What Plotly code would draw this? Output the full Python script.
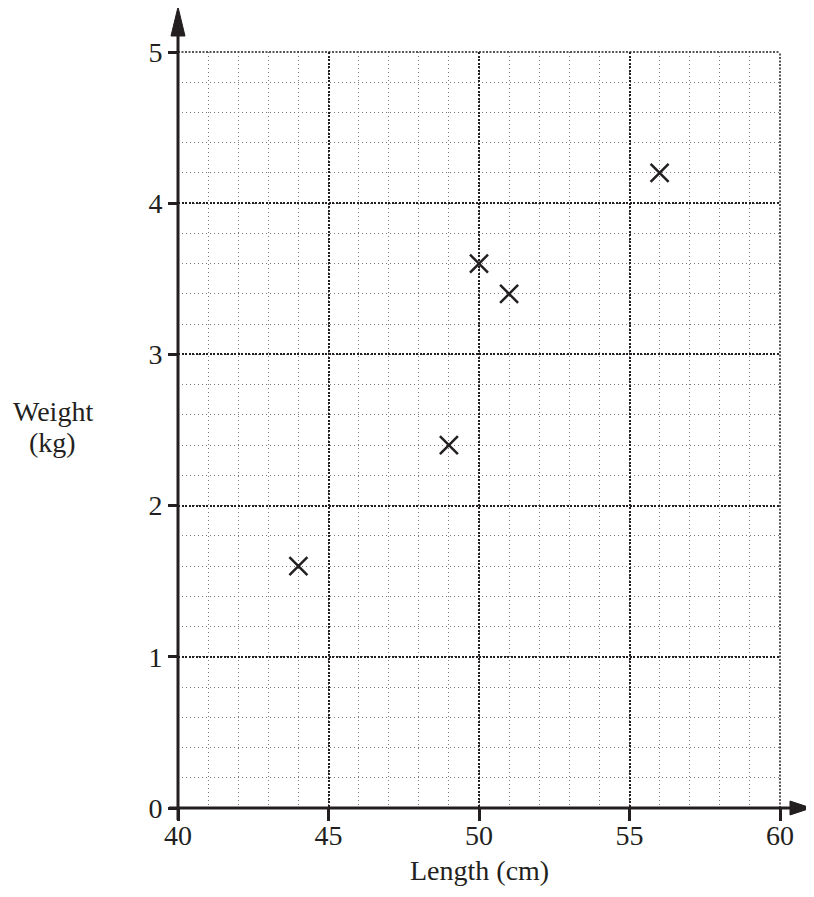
import plotly.graph_objects as go

# Data
lengths_cm = [44, 49, 50, 51, 56]
weights_kg = [1.6, 2.4, 3.6, 3.4, 4.2]
x_ticks = [40, 45, 50, 55, 60]
y_ticks = [0, 1, 2, 3, 4, 5]
x_title = "Length (cm)"
y_title_lines = ["Weight", "(kg)"]

INK = "#231f20"
FONT = "Liberation Serif"
FS = 28
MAJOR_DASH = "2px,1.5px"

fig = go.Figure()
fig.add_trace(go.Scatter(
    x=lengths_cm, y=weights_kg, mode="markers",
    marker=dict(symbol="x-thin-open", size=18, color=INK,
                line=dict(color=INK, width=2.5)),
    cliponaxis=False, showlegend=False, hoverinfo="x+y"))

fig.update_layout(
    width=798, height=881,
    margin=dict(l=170, r=23, t=44, b=81),
    plot_bgcolor="white", paper_bgcolor="white",
    font=dict(family=FONT, size=FS, color=INK),
    xaxis=dict(range=[40, 60], tickvals=x_ticks, ticks="outside", ticklen=12,
               tickwidth=3, tickcolor=INK, showline=False, zeroline=False,
               ticklabelstandoff=-10,
               showgrid=True, gridcolor=INK, gridwidth=1.5, griddash=MAJOR_DASH,
               minor=dict(dtick=1, showgrid=True, gridcolor="#7a7a7a",
                          gridwidth=1, griddash="1px,3px"),
               tickfont=dict(family=FONT, size=FS, color=INK), fixedrange=True),
    yaxis=dict(range=[0, 5], tickvals=y_ticks, ticks="outside", ticklen=9,
               tickwidth=3, tickcolor=INK, showline=False, zeroline=False,
               showgrid=True, gridcolor=INK, gridwidth=1.5, griddash=MAJOR_DASH,
               minor=dict(dtick=0.2, showgrid=True, gridcolor="#7a7a7a",
                          gridwidth=1, griddash="1px,3px"),
               tickfont=dict(family=FONT, size=FS, color=INK), fixedrange=True),
)

# Edge grid lines (top and right borders of the grid), dotted like major gridlines
fig.add_shape(type="line", xref="paper", yref="paper", x0=0, x1=1, y0=1, y1=1,
              line=dict(color=INK, width=1.5, dash=MAJOR_DASH), layer="above")
fig.add_shape(type="line", xref="paper", yref="paper", x0=1, x1=1, y0=0, y1=1,
              line=dict(color=INK, width=1.5, dash=MAJOR_DASH), layer="above")

# Axis lines (paper refs so they are not clipped; x range 40..60 = paper 0..1, y 0..5 = paper 0..1)
fig.add_shape(type="line", xref="paper", yref="paper", xsizemode="pixel", xanchor=0,
              x0=-9, x1=617, y0=0, y1=0, line=dict(color=INK, width=3), layer="above")
fig.add_shape(type="line", xref="paper", yref="paper", ysizemode="pixel", yanchor=0,
              y0=-12, y1=775, x0=0, x1=0, line=dict(color=INK, width=3), layer="above")

# Arrowheads
fig.add_shape(type="path", xref="paper", yref="paper", xsizemode="pixel", ysizemode="pixel",
              xanchor=1, yanchor=0,
              path="M 10 7 L 31 0 L 10 -7 Z", fillcolor=INK, line=dict(color=INK, width=1),
              layer="above")
fig.add_shape(type="path", xref="paper", yref="paper", xsizemode="pixel", ysizemode="pixel",
              xanchor=0, yanchor=1,
              path="M -7 16 L 0 45 L 7 16 Z", fillcolor=INK, line=dict(color=INK, width=1),
              layer="above")

# Axis titles
fig.add_annotation(text=x_title, xref="paper", yref="paper", x=0.5, y=-0.06,
                   xanchor="center", yanchor="top", showarrow=False,
                   font=dict(family=FONT, size=FS, color=INK))
fig.add_annotation(text=y_title_lines[0], xref="paper", yref="paper", x=-0.208, y=0.524,
                   xanchor="center", yanchor="middle", showarrow=False,
                   font=dict(family=FONT, size=FS, color=INK))
fig.add_annotation(text=y_title_lines[1], xref="paper", yref="paper", x=-0.208, y=0.484,
                   xanchor="center", yanchor="middle", showarrow=False,
                   font=dict(family=FONT, size=FS, color=INK))

fig.write_html("out.html")
